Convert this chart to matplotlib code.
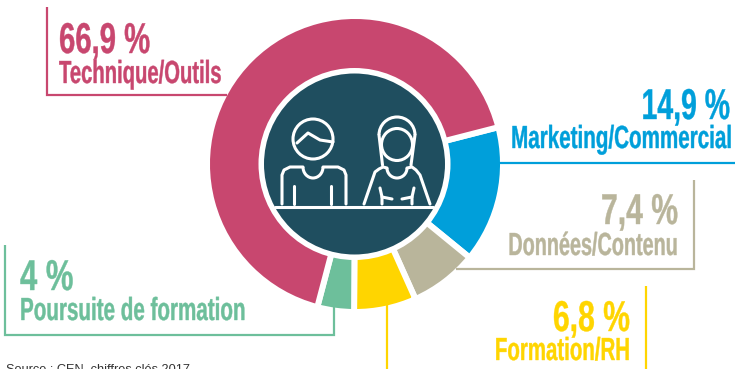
import matplotlib
matplotlib.use('Agg')
import matplotlib.pyplot as plt
from matplotlib.patches import Circle, Arc, Ellipse
from matplotlib.patheffects import AbstractPathEffect
from matplotlib.transforms import Affine2D

# values, clockwise from the pink/blue boundary
labels = ['Marketing/Commercial', 'Données/Contenu', 'Formation/RH', 'Poursuite de formation', 'Technique/Outils']
values = [14.9, 7.4, 6.8, 4.0, 66.9]
value_labels = ['14,9 %', '7,4 %', '6,8 %', '4 %', '66,9 %']
colors = ['#009FDA', '#B9B59B', '#FFD500', '#6DBF9B', '#C8476F']
dark = '#1F4E5F'

H = 369.0
font = ['Liberation Sans']


def Y(y):
    return H - y


class Squeeze(AbstractPathEffect):
    # no condensed font installed, so narrow the glyphs around the text anchor
    def __init__(self, x, sx):
        super().__init__()
        self.x = x
        self.sx = sx

    def draw_path(self, renderer, gc, tpath, affine, rgbFace=None):
        squeeze = Affine2D().translate(-self.x, 0).scale(self.sx, 1).translate(self.x, 0)
        gc0 = renderer.new_gc()
        gc0.copy_properties(gc)
        gc0.set_linewidth(0.3)
        gc0.set_foreground(rgbFace)
        renderer.draw_path(gc0, tpath, affine + squeeze, rgbFace)
        gc0.restore()


fig = plt.figure(figsize=(7.35, 3.69), dpi=100)
ax = fig.add_axes([0, 0, 1, 1])

ax.pie(values, colors=colors, startangle=14.4, counterclock=False, center=(355, Y(164)), radius=148,
       wedgeprops=dict(width=70, edgecolor='white', linewidth=4.3, joinstyle='round'), frame=True)
ax.set_xlim(0, 735)
ax.set_ylim(0, H)
ax.set_aspect('equal')
ax.axis('off')

# centre disc
ax.add_patch(Circle((354.5, Y(164)), 96, fc='white', ec='none', zorder=5))
ax.add_patch(Circle((354.5, Y(164)), 90.5, fc=dark, ec='none', zorder=6))


def line(xs, ys, c, lw=1.6):
    ax.plot(xs, [Y(v) for v in ys], color=c, lw=lw, solid_capstyle='butt', solid_joinstyle='miter', zorder=2)


def icon(xs, ys):
    ax.plot(xs, [Y(v) for v in ys], color='white', lw=2.2, solid_capstyle='round', solid_joinstyle='round', zorder=7)


# connector lines, each one stops on the ring
line([47, 47, 227], [7, 95, 95], colors[4])
line([499, 735], [162.5, 162.5], colors[0])
line([694, 694, 456], [180, 269, 269], colors[1])
line([646, 646], [286, 369], colors[2])
line([387, 387], [305, 369], colors[2])
line([5, 5, 334, 334], [245, 334.5, 334.5, 307], colors[3])

# table edge
icon([275, 433], [207, 207])

# man
ax.add_patch(Circle((313, Y(139)), 20, fc='none', ec='white', lw=2.2, zorder=7))
icon([297, 308, 320, 333], [143, 133, 140, 142])
icon([282, 282, 284, 290, 303], [204, 175, 170, 167, 167])
icon([346, 346, 344, 338, 323], [204, 175, 170, 167, 167])
icon([294, 294], [186, 204])
icon([331, 331], [186, 204])
ax.add_patch(Arc((313, Y(167)), 20, 22, theta1=180, theta2=360, ec='white', lw=2.2, zorder=7))

# woman
ax.add_patch(Ellipse((397, Y(144.5)), 31, 32, fc='none', ec='white', lw=2.2, zorder=7))
ax.add_patch(Arc((397, Y(135)), 36, 36, theta1=0, theta2=180, ec='white', lw=2.2, zorder=7))
icon([379, 382.5], [135, 165])
icon([415, 411], [135, 165])
icon([364, 375, 379, 383, 387], [204, 172, 169, 167, 168])
icon([430, 420, 416, 412, 407], [204, 175, 170, 167, 168])
ax.add_patch(Arc((397, Y(168)), 20, 20, theta1=180, theta2=360, ec='white', lw=2.2, zorder=7))
icon([380, 382, 382], [188, 197, 204])
icon([414, 412, 412], [188, 197, 204])
icon([382, 392], [197, 199])
icon([412, 402], [197, 199])

# labels: x, baseline y, alignment, squeeze
pct_pos = [(730, 119, 'right', 0.66), (678, 224, 'right', 0.70), (630, 331, 'right', 0.70),
           (20, 290, 'left', 0.72), (59, 53, 'left', 0.68)]
name_pos = [(732, 148, 'right', 0.645), (678, 255, 'right', 0.62), (630, 360, 'right', 0.64),
            (20, 320, 'left', 0.645), (59, 83, 'left', 0.633)]
for i in range(len(labels)):
    ax.text(pct_pos[i][0], Y(pct_pos[i][1]), value_labels[i], color=colors[i], family=font, fontweight='bold',
            fontsize=31, ha=pct_pos[i][2], va='baseline', zorder=8,
            path_effects=[Squeeze(pct_pos[i][0], pct_pos[i][3])])
    ax.text(name_pos[i][0], Y(name_pos[i][1]), labels[i], color=colors[i], family=font, fontweight='bold',
            fontsize=23, ha=name_pos[i][2], va='baseline', zorder=8,
            path_effects=[Squeeze(name_pos[i][0], name_pos[i][3])])

# the reference itself crops this line at the bottom edge
ax.text(6, Y(372), 'Source : CEN, chiffres clés 2017', color='#333333', fontsize=9.2, family=font, va='baseline')

fig.savefig('out.png', dpi=100)
